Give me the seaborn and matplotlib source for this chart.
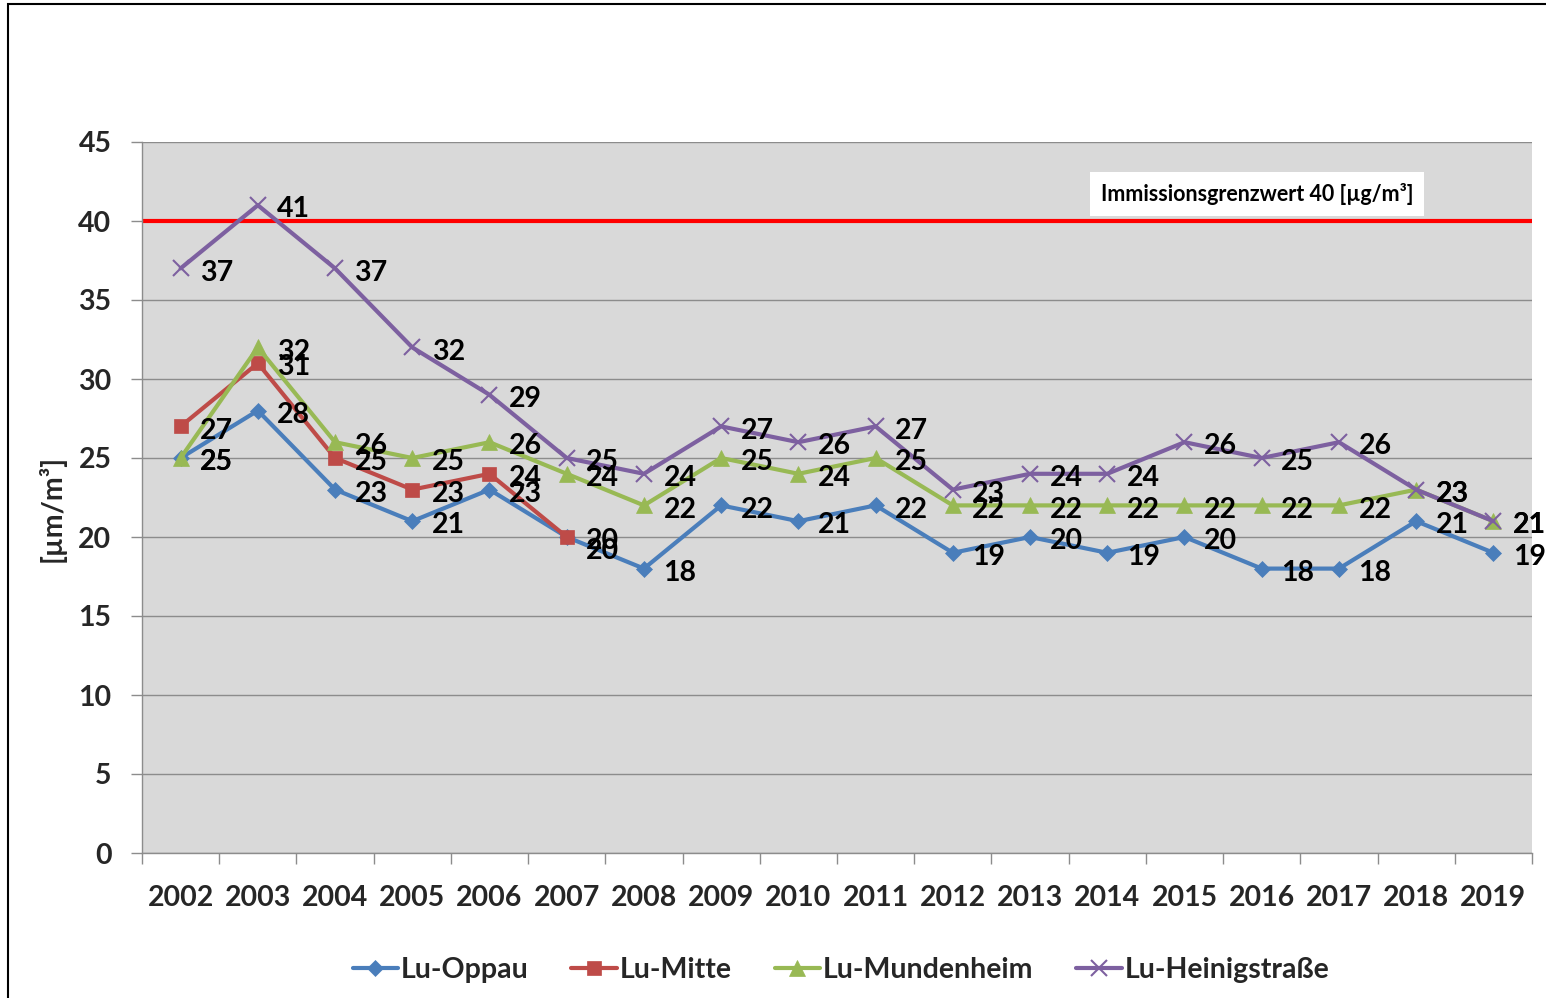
import numpy as np
import matplotlib
matplotlib.use("Agg")
import matplotlib.pyplot as plt
from matplotlib.patches import Rectangle
from matplotlib.ticker import FixedLocator
import seaborn as sns

# --- data --------------------------------------------------------------------
YEARS = list(range(2002, 2020))
OPPAU = [25, 28, 23, 21, 23, 20, 18, 22, 21, 22, 19, 20, 19, 20, 18, 18, 21, 19]
MITTE = [27, 31, 25, 23, 24, 20]
MUNDENHEIM = [25, 32, 26, 25, 26, 24, 22, 25, 24, 25, 22, 22, 22, 22, 22, 22, 23, 21]
HEINIG = [37, 41, 37, 32, 29, 25, 24, 27, 26, 27, 23, 24, 24, 26, 25, 26, 23, 21]
NAMES = ["Lu-Oppau", "Lu-Mitte", "Lu-Mundenheim", "Lu-Heinigstraße"]
LIMIT = 40
LIMIT_TEXT = "Immissionsgrenzwert 40 [µg/m³]"
YLABEL = "[µm/m³]"

SERIES = [OPPAU, MITTE, MUNDENHEIM, HEINIG]
COLORS = ["#4A7EBB", "#BE4B48", "#98B954", "#7D60A0"]
MARKERS = ["D", "s", "^", "x"]
MSIZE = [8, 10, 11, 11]
FS = 20.5

sns.set_theme(style="white")
plt.rcParams["font.family"] = ["Lato", "DejaVu Sans"]

fig = plt.figure(figsize=(15.46, 9.98), dpi=100)
ax = fig.add_axes([142 / 1546, 1 - 853 / 998, 1390 / 1546, 711 / 998])
ax.set_facecolor("#D9D9D9")

ax.axhline(LIMIT, color="#FF0000", linewidth=3, zorder=1.5)

for vals, name, c, m, ms in zip(SERIES, NAMES, COLORS, MARKERS, MSIZE):
    sns.lineplot(x=YEARS[:len(vals)], y=vals, ax=ax, color=c, marker=m,
                 markersize=ms, markeredgecolor=c, markeredgewidth=1.5 if m == "x" else 0.5,
                 linewidth=3, label=name)

# Excel nudged a couple of overlapping labels; mimic the 2007 pair
nudge = {("Lu-Oppau", 2007): -10}
for vals, name in zip(SERIES, NAMES):
    for yr, v in zip(YEARS, vals):
        dy = nudge.get((name, yr), 0)
        ax.annotate(str(v), (yr, v), xytext=(14, -3 + dy * 0.72), textcoords="offset points",
                    ha="left", va="center", fontsize=FS, fontweight="bold", color="black")

ax.text(2015.94, 41.7, LIMIT_TEXT, ha="center", va="center", fontsize=15.5,
        fontweight="bold", color="black",
        bbox=dict(boxstyle="square,pad=0.5", facecolor="white", edgecolor="none"))

ax.set_xlim(YEARS[0] - 0.5, YEARS[-1] + 0.5)
ax.set_ylim(0, 45)
ax.set_yticks(np.arange(0, 46, 5))
ax.set_xticks(YEARS)
ax.xaxis.set_minor_locator(FixedLocator(np.arange(YEARS[0] - 0.5, YEARS[-1] + 1, 1)))
ax.grid(axis="y", color="#8C8C8C", linewidth=1)
ax.set_axisbelow(True)
ax.tick_params(axis="y", which="major", length=8, width=1, color="#8C8C8C",
               pad=14, labelsize=FS, left=True)
ax.tick_params(axis="x", which="major", length=0, pad=23, labelsize=FS)
ax.tick_params(axis="x", which="minor", length=8, width=1, color="#8C8C8C", bottom=True)
for lab in ax.get_xticklabels() + ax.get_yticklabels():
    lab.set_fontweight("bold")
for side in ["top", "right"]:
    ax.spines[side].set_visible(False)
for side in ["left", "bottom"]:
    ax.spines[side].set_color("#8C8C8C")
    ax.spines[side].set_linewidth(1)
ax.set_xlabel("")
ax.set_ylabel("")

handles, labels = ax.get_legend_handles_labels()
ax.get_legend().remove()
fig.legend(handles, labels, loc="center", bbox_to_anchor=(841 / 1546, 1 - 970 / 998),
           ncol=4, frameon=False, prop={"size": FS, "weight": "bold"},
           handlelength=1.6, handletextpad=0.1, columnspacing=1.5)

fig.text(52 / 1546, 1 - 508 / 998, YLABEL, rotation=90, ha="center", va="center",
         fontsize=FS, fontweight="bold")

fig.patches.append(Rectangle((8 / 1546, -0.05), 1.1, 1 - 4 / 998 + 0.05,
                             transform=fig.transFigure, fill=False,
                             edgecolor="black", linewidth=1.5))

fig.savefig("out.png", dpi=100)
